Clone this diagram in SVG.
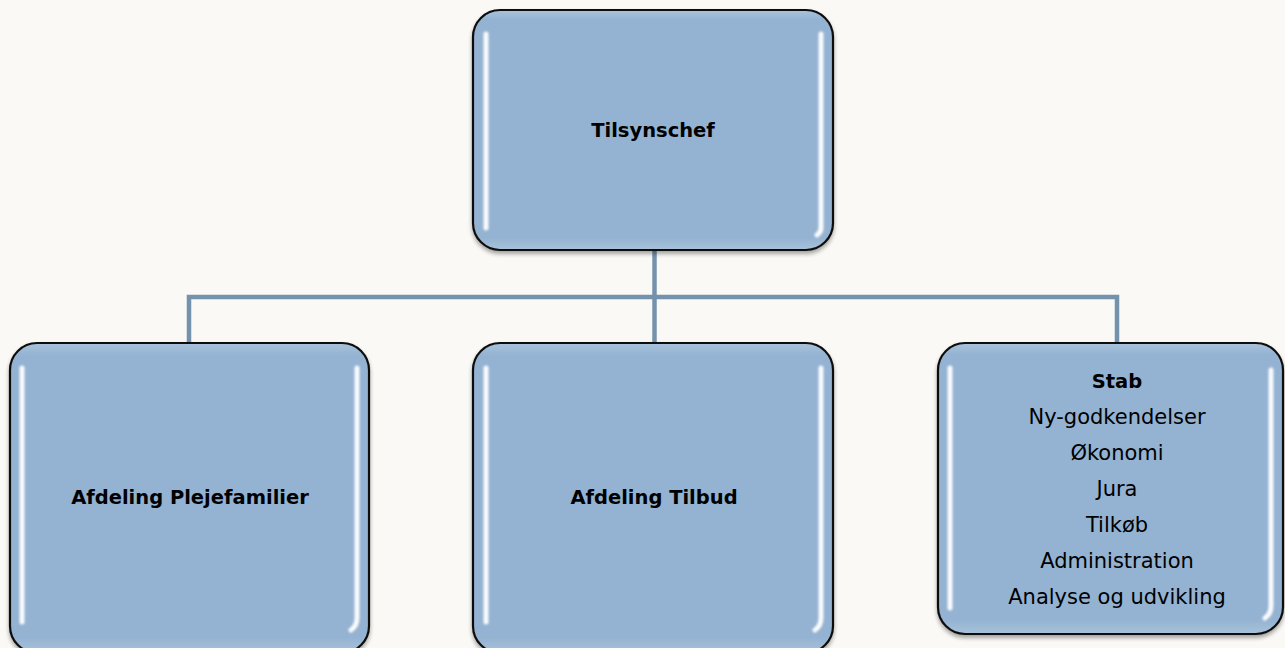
<svg xmlns="http://www.w3.org/2000/svg" width="1285" height="648" viewBox="0 0 1285 648">
<style>
.box{fill:url(#fillg);stroke:#111;stroke-width:2.2;filter:url(#sh)}
.hl{fill:none;stroke:#ffffff;stroke-width:5;stroke-linecap:round;opacity:0.95;filter:url(#bl)}
.con{fill:none;stroke:#7592ad;stroke-width:4.5}
.t{font-family:"DejaVu Sans",sans-serif;font-size:21px;fill:#000;text-anchor:middle}
.b{font-weight:bold;font-size:19.5px}
</style>
<defs>
<linearGradient id="fillg" x1="0" y1="0" x2="0" y2="1">
<stop offset="0" stop-color="#a9c3dc"/>
<stop offset="0.04" stop-color="#94b3d2"/>
<stop offset="0.95" stop-color="#94b3d2"/>
<stop offset="1" stop-color="#a8c2da"/>
</linearGradient>
<filter id="sh" x="-5%" y="-5%" width="110%" height="115%">
<feGaussianBlur in="SourceAlpha" stdDeviation="2"/>
<feOffset dx="0" dy="3" result="o"/>
<feComponentTransfer><feFuncA type="linear" slope="0.35"/></feComponentTransfer>
<feMerge><feMergeNode/><feMergeNode in="SourceGraphic"/></feMerge>
</filter>
<filter id="bl" filterUnits="userSpaceOnUse" x="0" y="0" width="1285" height="648"><feGaussianBlur stdDeviation="0.9"/></filter>
</defs>
<rect width="1285" height="648" fill="#faf9f5"/>
<g id="connectors">
<path class="con" d="M654.5 250 V343"/>
<path class="con" d="M189 343 V297 H1117 V343"/>
</g>
<g id="node-tilsynschef">
<rect class="box" x="473" y="10" width="360" height="240" rx="27"/>
<path class="hl" d="M486 34 V228"/>
<path class="hl" d="M821 34 V228 Q821 232 817 235"/>
<text class="t b" x="653" y="137">Tilsynschef</text>
</g>
<g id="node-plejefamilier">
<rect class="box" x="10" y="343" width="359" height="310" rx="27"/>
<path class="hl" d="M22 368 V622"/>
<path class="hl" d="M357 368 V618 Q357 626 351 630"/>
<text class="t b" x="190" y="504">Afdeling Plejefamilier</text>
</g>
<g id="node-tilbud">
<rect class="box" x="473" y="343" width="360" height="310" rx="27"/>
<path class="hl" d="M486 368 V622"/>
<path class="hl" d="M821 368 V618 Q821 626 815 630"/>
<text class="t b" x="654" y="504">Afdeling Tilbud</text>
</g>
<g id="node-stab">
<rect class="box" x="938" y="343" width="345" height="291" rx="27"/>
<path class="hl" d="M950 368 V608"/>
<path class="hl" d="M1271 370 V606 Q1271 614 1265 618"/>
<text class="t b" x="1117" y="388">Stab</text>
<text class="t" x="1117" y="424">Ny-godkendelser</text>
<text class="t" x="1117" y="460">Økonomi</text>
<text class="t" x="1117" y="496">Jura</text>
<text class="t" x="1117" y="532">Tilkøb</text>
<text class="t" x="1117" y="568">Administration</text>
<text class="t" x="1117" y="604">Analyse og udvikling</text>
</g>
</svg>
